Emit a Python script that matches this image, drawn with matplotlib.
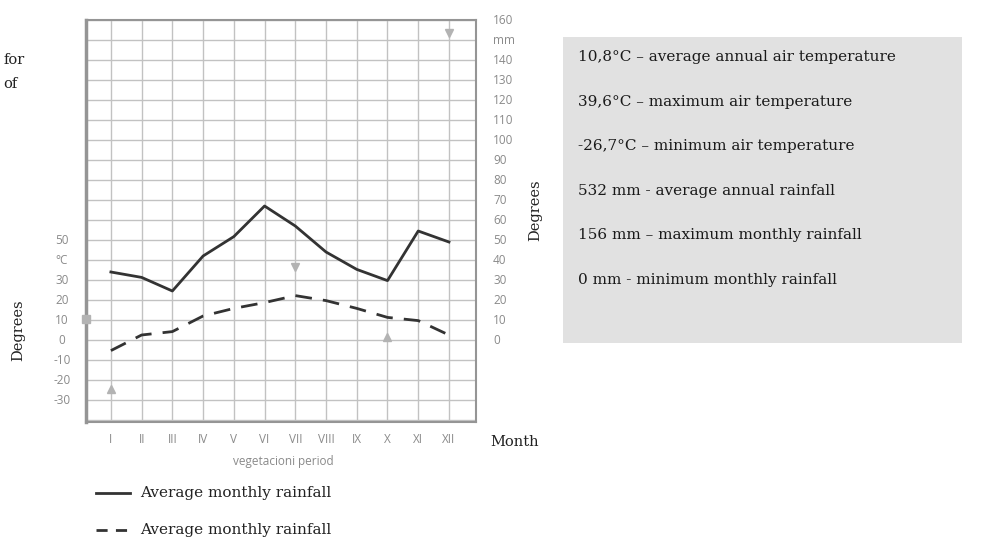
import matplotlib
matplotlib.use("Agg")
import matplotlib.pyplot as plt
import matplotlib.transforms as mtransforms

# data
months = ["I", "II", "III", "IV", "V", "VI", "VII", "VIII", "IX", "X", "XI", "XII"]
solid_vals = [34, 31.3, 24.5, 42, 51.7, 67, 57, 44, 35.3, 29.7, 54.5, 49]
dashed_vals = [-5.3, 2.5, 4.2, 12, 15.8, 18.7, 22.2, 19.7, 15.8, 11.3, 9.7, 2.5]
left_ticks = [50, 40, 30, 20, 10, 0, -10, -20, -30]
left_labels = ["50", "°C", "30", "20", "10", "0", "-10", "-20", "-30"]
right_ticks = list(range(160, -1, -10))
right_labels = ["160", "mm", "140", "130", "120", "110", "100", "90", "80", "70",
                "60", "50", "40", "30", "20", "10", "0"]
# small grey markers for extremes (month position, value)
mark_x = [12, 7, 10, 1, 0.19]
mark_y = [153.5, 36.7, 1.5, -24.5, 10.5]
mark_shape = ["v", "v", "^", "^", "s"]
info_lines = [
    "10,8°C – average annual air temperature",
    "39,6°C – maximum air temperature",
    "-26,7°C – minimum air temperature",
    "532 mm - average annual rainfall",
    "156 mm – maximum monthly rainfall",
    "0 mm - minimum monthly rainfall",
]
legend_labels = ["Average monthly rainfall", "Average monthly rainfall"]

W, H = 991, 540
fig = plt.figure(figsize=(W / 100, H / 100), dpi=100)

def fx(px):
    return px / W

def fy(py):
    return 1 - py / H

ax = fig.add_axes([fx(86), fy(422), fx(476 - 86), (422 - 20) / H])
x = list(range(1, 13))
ax.plot(x, solid_vals, color="#333333", lw=2)
ax.plot(x, dashed_vals, color="#333333", lw=2, dashes=(6, 4))
for mx, my, ms in zip(mark_x, mark_y, mark_shape):
    ax.plot(mx, my, marker=ms, color="#b3b3b3", ms=5.5, clip_on=False, zorder=5)

ax.set_xlim(0.19, 12.88)
ax.set_ylim(-41, 160)
ax.set_yticks(range(-40, 161, 10))
ax.set_xticks(x)
ax.set_xticklabels(months, color="#8a8a8a", fontsize=8.5, family="Open Sans")
ax.tick_params(axis="x", length=0, pad=8)
ax.tick_params(axis="y", length=0, labelleft=False)
ax.grid(True, color="#c2c2c2", lw=1)
ax.set_axisbelow(True)
for s in ax.spines.values():
    s.set_color("#959595")
    s.set_linewidth(1.5)
ax.spines["left"].set_linewidth(2.5)

trans = mtransforms.blended_transform_factory(ax.transAxes, ax.transData)
for v, lab in zip(left_ticks, left_labels):
    ax.text(-0.062, v, lab, transform=trans, ha="center", va="center",
            color="#8a8a8a", fontsize=8.5, family="Open Sans")
for v, lab in zip(right_ticks, right_labels):
    ax.text(1.044, v, lab, transform=trans, ha="left", va="center",
            color="#8a8a8a", fontsize=8.5, family="Open Sans")

serif = "DejaVu Serif"
fig.text(fx(18), fy(330), "Degrees", rotation=90, ha="center", va="center",
         fontsize=10.5, family=serif, color="#222222")
fig.text(fx(535), fy(210), "Degrees", rotation=90, ha="center", va="center",
         fontsize=10.5, family=serif, color="#222222")
fig.text(fx(490), fy(442), "Month", ha="left", va="center",
         fontsize=10.5, family=serif, color="#222222")
fig.text(fx(283), fy(461), "vegetacioni period", ha="center", va="center",
         fontsize=8.5, family="Open Sans", color="#8a8a8a")
fig.text(fx(3), fy(60), "for", ha="left", va="center",
         fontsize=10.5, family=serif, color="#222222")
fig.text(fx(3), fy(84), "of", ha="left", va="center",
         fontsize=10.5, family=serif, color="#222222")

# legend drawn by hand under the plot
ly = [493, 530]
styles = ["-", "--"]
for yy, st, lab in zip(ly, styles, legend_labels):
    fig.add_artist(plt.Line2D([fx(96), fx(130)], [fy(yy), fy(yy)], color="#333333",
                              lw=2, ls=st, dashes=(4, 3) if st == "--" else (None, None)))
    fig.text(fx(140), fy(yy), lab, ha="left", va="center",
             fontsize=11, family=serif, color="#222222")

# grey information box
fig.add_artist(plt.Rectangle((fx(563), fy(343)), fx(962 - 563), (343 - 37) / H,
                             facecolor="#e1e1e1", edgecolor="none"))
for i, line in enumerate(info_lines):
    fig.text(fx(578), fy(57 + i * 44.6), line, ha="left", va="center",
             fontsize=11, family=serif, color="#1a1a1a")

fig.savefig("out.png", dpi=100)
